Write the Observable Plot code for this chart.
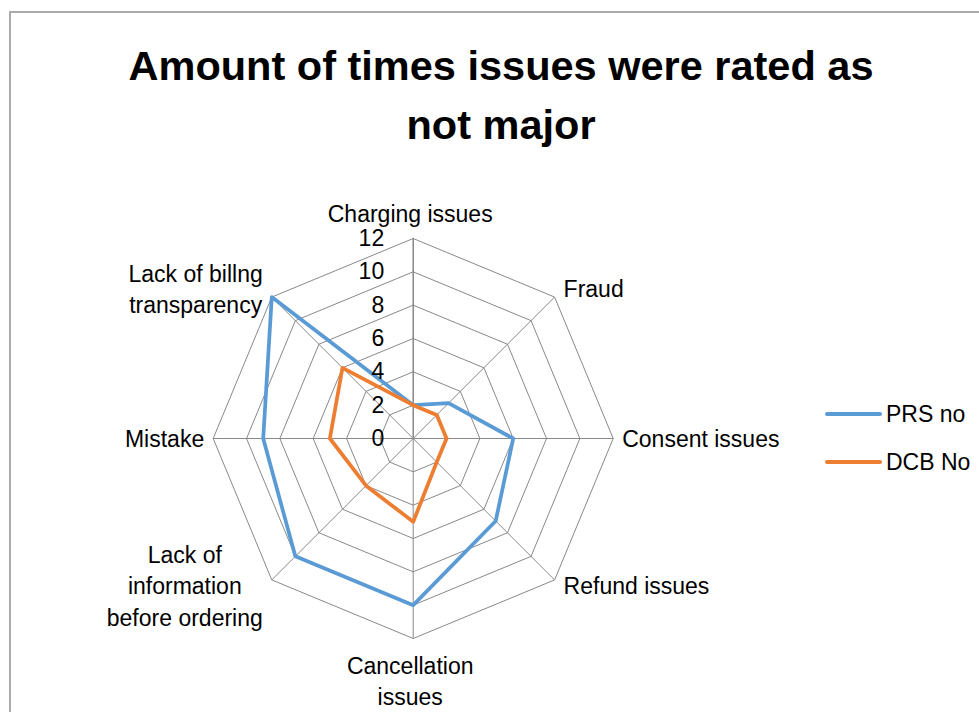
<!DOCTYPE html>
<html><head><meta charset="utf-8">
<script src="https://cdn.jsdelivr.net/npm/d3@7"></script>
<script src="https://cdn.jsdelivr.net/npm/@observablehq/plot@0.6"></script>
<style>
body{margin:0;background:#fff;font-family:"Liberation Sans",Arial,sans-serif;}
#wrap{position:relative;width:979px;height:712px;overflow:hidden;background:#fff}
#frame{position:absolute;left:9px;top:11px;width:1200px;height:1000px;border-left:2px solid #ababab;border-top:2px solid #ababab}
#title{position:absolute;left:0;top:36px;width:1002px;text-align:center;font-weight:bold;font-size:41.5px;line-height:59px;color:#000}
#chart{position:absolute;left:0;top:160px}
#legend{position:absolute;left:824px;top:390px;font-size:23px;color:#000}
.item{display:flex;align-items:center;height:48px}
.item svg{margin-right:2px}
</style></head><body>
<div id="wrap">
<div id="frame"></div>
<div id="title">Amount of times issues were rated as<br>not major</div>
<div id="chart"></div>
<div id="legend"></div>
</div>
<script>
const categories = ["Charging issues","Fraud","Consent issues","Refund issues","Cancellation issues","Lack of information before ordering","Mistake","Lack of billng transparency"];
const categoryLabels = ["Charging issues","Fraud","Consent issues","Refund issues","Cancellation\nissues","Lack of\ninformation\nbefore ordering","Mistake","Lack of billng\ntransparency"];
const prsNo = [2,3,6,7,10,10,9,12];
const dcbNo = [2,2,2,2,5,4,5,6];
const tickValues = [0,2,4,6,8,10,12];
const seriesNames = ["PRS no","DCB No"];
const seriesColors = ["#5B9BD5","#ED7D31"];

const maxValue = d3.max(tickValues);
const n = categories.length;
const angle = i => Math.PI/2 - i*2*Math.PI/n;
const px = (i,r) => r*Math.cos(angle(i));
const py = (i,r) => r*Math.sin(angle(i));

const ringPts = tickValues.filter(v=>v>0).flatMap(v => d3.range(n+1).map(i=>({ring:v, x:px(i%n,v), y:py(i%n,v)})));
const spokes = categories.map((c,i)=>({x1:0,y1:0,x2:px(i,maxValue),y2:py(i,maxValue), top: i===0}));
const seriesPts = [prsNo, dcbNo].flatMap((vals,s)=> d3.range(n+1).map(i=>({series:seriesNames[s], x:px(i%n, vals[i%n]), y:py(i%n, vals[i%n])})));

const fontSize = 23, lh = 1.37, capH = 0.716*fontSize, gap = 9;
const ctx = document.createElement("canvas").getContext("2d");
ctx.font = `${fontSize}px "Liberation Sans", Arial, sans-serif`;
const labelMarks = categoryLabels.map((t,i)=>{
  const lines = t.split("\n");
  const w = d3.max(lines, l=>ctx.measureText(l).width);
  const c = Math.cos(angle(i)), s = Math.sin(angle(i));
  const H = (lines.length-1)*lh*fontSize + capH;
  let dx = 0, dy;
  if (Math.abs(c) < 0.01) {
    dx = -3;
    dy = s > 0 ? -17 : 35 + (lines.length-1)*lh*fontSize;
  } else {
    dx = Math.sign(c)*(w/2 + gap);
    const centerOffset = Math.abs(s) < 0.01 ? 0 : (s > 0 ? -8 : 6);
    dy = centerOffset + H/2;
  }
  return Plot.text([{text:t, x:px(i,maxValue), y:py(i,maxValue)}], {
    x:"x", y:"y", text:"text", dx, dy, textAnchor:"middle", lineAnchor:"bottom",
    lineHeight: lh, fontSize, fill:"#000"
  });
});

const chart = Plot.plot({
  width: 979, height: 552,
  margin: 0,
  x: {domain:[-maxValue,maxValue], range:[212.7,612.7], axis:null},
  y: {domain:[-maxValue,maxValue], range:[478,78], axis:null},
  color: {domain: seriesNames, range: seriesColors},
  style: {fontFamily:'"Liberation Sans", Arial, sans-serif', background:"transparent"},
  marks: [
    Plot.line(ringPts, {x:"x", y:"y", z:"ring", stroke:"#898989", strokeWidth:1}),
    Plot.link(spokes, {x1:"x1", y1:"y1", x2:"x2", y2:"y2", stroke:d=>d.top?"#7f7f7f":"#898989", strokeWidth:d=>d.top?1.4:1}),
    Plot.line(seriesPts, {x:"x", y:"y", z:"series", stroke:"series", strokeWidth:3.75, strokeLinejoin:"round", strokeLinecap:"round"}),
    Plot.text(tickValues, {x:d=>0, y:d=>d, text:d=>String(d), textAnchor:"end", lineAnchor:"middle", dx:-29, fontSize, fill:"#000"}),
    ...labelMarks
  ]
});
document.getElementById("chart").appendChild(chart);

const legend = document.getElementById("legend");
seriesNames.forEach((name,k)=>{
  const item = document.createElement("div");
  item.className = "item";
  item.innerHTML = `<svg width="60" height="10"><line x1="3" y1="5" x2="56" y2="5" stroke="${seriesColors[k]}" stroke-width="4" stroke-linecap="round"/></svg><span>${name}</span>`;
  legend.appendChild(item);
});
</script>
</body></html>
